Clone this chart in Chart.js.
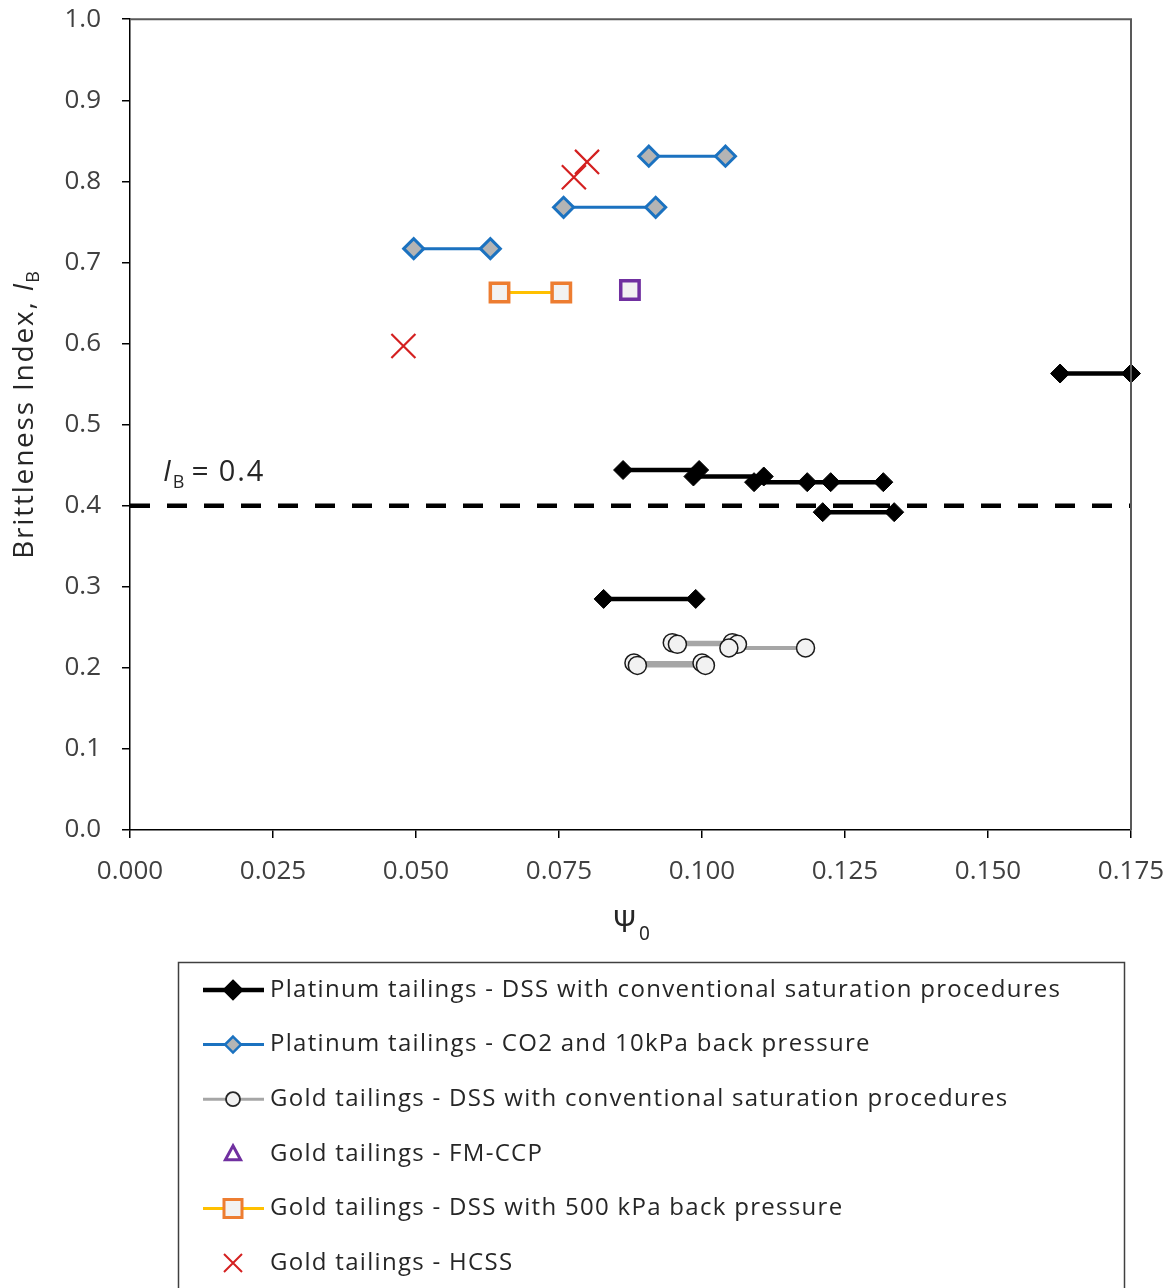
<!DOCTYPE html>
<html>
<head>
<meta charset="utf-8">
<script src="https://cdn.jsdelivr.net/npm/chart.js@4.4.0/dist/chart.umd.min.js"></script>
<style>
html, body { margin: 0; padding: 0; background: #fff; }
</style>
</head>
<body>
<canvas id="chart" width="1174" height="1288"></canvas>
<script>
// each test is one pair of Psi_0 values joined by a line at the same I_B
const ptDssStart = [0.0862, 0.0985, 0.1091, 0.1184, 0.1211, 0.0828, 0.1626];
const ptDssEnd   = [0.0995, 0.1108, 0.1225, 0.1317, 0.1336, 0.0989, 0.1750];
const ptDssIB    = [0.444, 0.436, 0.429, 0.429, 0.392, 0.285, 0.563];

const ptCo2Start = [0.0907, 0.0758, 0.0496];
const ptCo2End   = [0.1041, 0.0919, 0.0630];
const ptCo2IB    = [0.831, 0.768, 0.717];

const goldDssStart = [0.0948, 0.0957, 0.1047, 0.0881, 0.0887];
const goldDssEnd   = [0.1053, 0.1062, 0.1181, 0.1000, 0.1006];
const goldDssIB    = [0.231, 0.229, 0.2245, 0.206, 0.203];

const goldFmX  = [0.0874];
const goldFmIB = [0.666];

const gold500Start = [0.0646];
const gold500End   = [0.0754];
const gold500IB    = [0.663];

const goldHcssX  = [0.0799, 0.0776, 0.0478];
const goldHcssIB = [0.824, 0.805, 0.597];

const ibLimit = 0.4;
const xTicksMax = 0.175;

function pairs(start, end, ib) {
    const out = [];
    for (let i = 0; i < start.length; i++) {
        out.push({x: start[i], y: ib[i]});
        out.push({x: end[i], y: ib[i]});
        out.push({x: end[i], y: null});
    }
    return out;
}

function points(xs, ys) {
    return xs.map((x, i) => ({x: x, y: ys[i]}));
}

const datasets = [
    {
        label: 'Platinum tailings - DSS with conventional saturation procedures',
        data: pairs(ptDssStart, ptDssEnd, ptDssIB),
        showLine: true, borderColor: '#000', borderWidth: 4.5,
        pointStyle: 'rectRot', pointRadius: 9.5, pointBackgroundColor: '#000',
        pointBorderColor: '#000', pointBorderWidth: 1,
        legend: {line: '#000', lw: 4.5, marker: 'diamond', fill: '#000', stroke: '#000', r: 9}
    },
    {
        label: 'Platinum tailings - CO2 and 10kPa back pressure',
        data: pairs(ptCo2Start, ptCo2End, ptCo2IB),
        showLine: true, borderColor: '#1b72c0', borderWidth: 3,
        pointStyle: 'rectRot', pointRadius: 10, pointBackgroundColor: '#b4b4b4',
        pointBorderColor: '#1b72c0', pointBorderWidth: 3,
        legend: {line: '#1b72c0', lw: 3, marker: 'diamond', fill: '#b4b4b4', stroke: '#1b72c0', r: 8}
    },
    {
        label: 'Gold tailings - DSS with conventional saturation procedures',
        data: pairs(goldDssStart, goldDssEnd, goldDssIB),
        showLine: true, borderColor: '#a6a6a6', borderWidth: 4,
        pointStyle: 'circle', pointRadius: 9, pointBackgroundColor: '#f2f2f2',
        pointBorderColor: '#1a1a1a', pointBorderWidth: 1.5,
        legend: {line: '#a6a6a6', lw: 3, marker: 'circle', fill: '#f2f2f2', stroke: '#262626', r: 7}
    },
    {
        label: 'Gold tailings - FM-CCP',
        data: points(goldFmX, goldFmIB),
        showLine: false,
        pointStyle: 'rect', pointRadius: 13, pointBackgroundColor: '#f2f2f2',
        pointBorderColor: '#7030a0', pointBorderWidth: 3.5,
        legend: {line: null, marker: 'triangle', fill: '#fff', stroke: '#7030a0', r: 8}
    },
    {
        label: 'Gold tailings - DSS with 500 kPa back pressure',
        data: pairs(gold500Start, gold500End, gold500IB),
        showLine: true, borderColor: '#ffc000', borderWidth: 3,
        pointStyle: 'rect', pointRadius: 13, pointBackgroundColor: '#f2f2f2',
        pointBorderColor: '#ed7d31', pointBorderWidth: 3.5,
        legend: {line: '#ffc000', lw: 3, marker: 'square', fill: '#f2f2f2', stroke: '#ed7d31', r: 9}
    },
    {
        label: 'Gold tailings - HCSS',
        data: points(goldHcssX, goldHcssIB),
        showLine: false,
        pointStyle: 'crossRot', pointRadius: 17, pointBorderColor: '#d42020',
        pointBorderWidth: 2.2,
        legend: {line: null, marker: 'x', stroke: '#d42020', r: 9}
    },
    {
        // I_B = 0.4 threshold
        data: [{x: 0, y: ibLimit}, {x: xTicksMax, y: ibLimit}],
        showLine: true, borderColor: '#000', borderWidth: 4.5, borderDash: [20, 17],
        pointRadius: 0
    }
];
datasets.forEach(d => { d.clip = false; d.spanGaps = false; });

function drawRuns(ctx, runs, x, y) {
    let cx = x;
    for (const r of runs) {
        ctx.font = r.font;
        ctx.letterSpacing = (r.ls || 0) + 'px';
        ctx.fillText(r.t, cx, y + (r.dy || 0));
        cx += ctx.measureText(r.t).width + (r.gap || 0);
    }
    ctx.letterSpacing = '0px';
}

function runsWidth(ctx, runs) {
    let w = 0;
    for (const r of runs) {
        ctx.font = r.font;
        ctx.letterSpacing = (r.ls || 0) + 'px';
        w += ctx.measureText(r.t).width + (r.gap || 0);
    }
    ctx.letterSpacing = '0px';
    return w;
}

function drawMarker(ctx, m, x, y) {
    ctx.save();
    ctx.fillStyle = m.fill || 'transparent';
    ctx.strokeStyle = m.stroke;
    const r = m.r;
    ctx.beginPath();
    if (m.marker === 'diamond') {
        ctx.lineWidth = 2.5;
        ctx.moveTo(x, y - r); ctx.lineTo(x + r, y); ctx.lineTo(x, y + r); ctx.lineTo(x - r, y); ctx.closePath();
        ctx.fill(); ctx.stroke();
    } else if (m.marker === 'circle') {
        ctx.lineWidth = 1.8;
        ctx.arc(x, y, r, 0, Math.PI * 2);
        ctx.fill(); ctx.stroke();
    } else if (m.marker === 'triangle') {
        ctx.lineWidth = 3;
        ctx.moveTo(x, y - r); ctx.lineTo(x + r * 0.95, y + r * 0.75); ctx.lineTo(x - r * 0.95, y + r * 0.75); ctx.closePath();
        ctx.fill(); ctx.stroke();
    } else if (m.marker === 'square') {
        ctx.lineWidth = 3;
        ctx.rect(x - r, y - r, 2 * r, 2 * r);
        ctx.fill(); ctx.stroke();
    } else if (m.marker === 'x') {
        ctx.lineWidth = 2;
        ctx.moveTo(x - r, y - r); ctx.lineTo(x + r, y + r);
        ctx.moveTo(x + r, y - r); ctx.lineTo(x - r, y + r);
        ctx.stroke();
    }
    ctx.restore();
}

const extras = {
    id: 'extras',
    afterDraw(chart) {
        const ctx = chart.ctx;
        const a = chart.chartArea;
        ctx.save();

        // top and right frame
        ctx.strokeStyle = '#595959';
        ctx.lineWidth = 2;
        ctx.beginPath();
        ctx.moveTo(a.left, a.top);
        ctx.lineTo(a.right, a.top);
        ctx.lineTo(a.right, a.bottom);
        ctx.stroke();

        ctx.fillStyle = '#262626';
        ctx.textBaseline = 'alphabetic';

        // I_B = 0.4 label
        const ly = chart.scales.y.getPixelForValue(ibLimit) - 25;
        drawRuns(ctx, [
            {t: 'I', font: 'italic 29px "Open Sans"', gap: 2},
            {t: 'B', font: '18px "Open Sans"', dy: 7, gap: 7},
            {t: '=', font: '30px "Open Sans"', gap: 10},
            {t: '0.4', font: '29px "Open Sans"', ls: 2}
        ], 163, ly);

        // y title
        const yRuns = [
            {t: 'Brittleness Index, ', font: '28px "Open Sans"', ls: 1.8},
            {t: 'I', font: 'italic 28px "Open Sans"', gap: 1},
            {t: 'B', font: '18px "Open Sans"', dy: 6}
        ];
        ctx.save();
        ctx.translate(33, 415);
        ctx.rotate(-Math.PI / 2);
        drawRuns(ctx, yRuns, -runsWidth(ctx, yRuns) / 2, 0);
        ctx.restore();

        // x title
        const xRuns = [
            {t: '\u03A8', font: '30px "Noto Sans"', gap: 2},
            {t: '0', font: '19px "Noto Sans"', dy: 8}
        ];
        drawRuns(ctx, xRuns, 631 - runsWidth(ctx, xRuns) / 2, 932);

        // legend box
        ctx.strokeStyle = '#404040';
        ctx.lineWidth = 1.5;
        ctx.strokeRect(178.5, 962.5, 946, 400);

        ctx.textBaseline = 'middle';
        let rowY = 990;
        chart.data.datasets.forEach(d => {
            if (!d.label) return;
            const m = d.legend;
            if (m.line) {
                ctx.strokeStyle = m.line;
                ctx.lineWidth = m.lw;
                ctx.beginPath();
                ctx.moveTo(203, rowY);
                ctx.lineTo(264, rowY);
                ctx.stroke();
            }
            drawMarker(ctx, m, 233, rowY);
            ctx.fillStyle = '#262626';
            ctx.font = '24px "Open Sans"';
            ctx.letterSpacing = '1.3px';
            ctx.fillText(d.label, 270, rowY);
            ctx.letterSpacing = '0px';
            rowY += 54.6;
        });
        ctx.restore();
    }
};

new Chart(document.getElementById('chart'), {
    type: 'scatter',
    data: {datasets: datasets},
    options: {
        responsive: false,
        animation: false,
        layout: {padding: {top: 18, right: 43, left: 0, bottom: 0}},
        plugins: {legend: {display: false}, tooltip: {enabled: false}},
        scales: {
            x: {
                type: 'linear', min: 0, max: xTicksMax,
                ticks: {
                    stepSize: 0.025, autoSkip: false, maxRotation: 0, padding: 18,
                    callback: v => v.toFixed(3),
                    font: {family: 'Open Sans', size: 26}, color: '#404040'
                },
                grid: {drawOnChartArea: false, tickLength: 8, color: '#000', lineWidth: 1.5},
                border: {color: '#000', width: 1.5},
                afterFit: s => {
                    s.height = 458;
                    s.paddingLeft = 0; s.paddingRight = 0;
                }
            },
            y: {
                type: 'linear', min: 0, max: 1,
                ticks: {
                    stepSize: 0.1, padding: 21,
                    callback: v => v.toFixed(1),
                    font: {family: 'Open Sans', size: 26}, color: '#404040'
                },
                grid: {drawOnChartArea: false, tickLength: 8, color: '#000', lineWidth: 1.5},
                border: {color: '#000', width: 1.5},
                afterFit: s => {
                    s.width = 130;
                    s.paddingTop = 0; s.paddingBottom = 0;
                }
            }
        }
    },
    plugins: [extras]
});
</script>
</body>
</html>
